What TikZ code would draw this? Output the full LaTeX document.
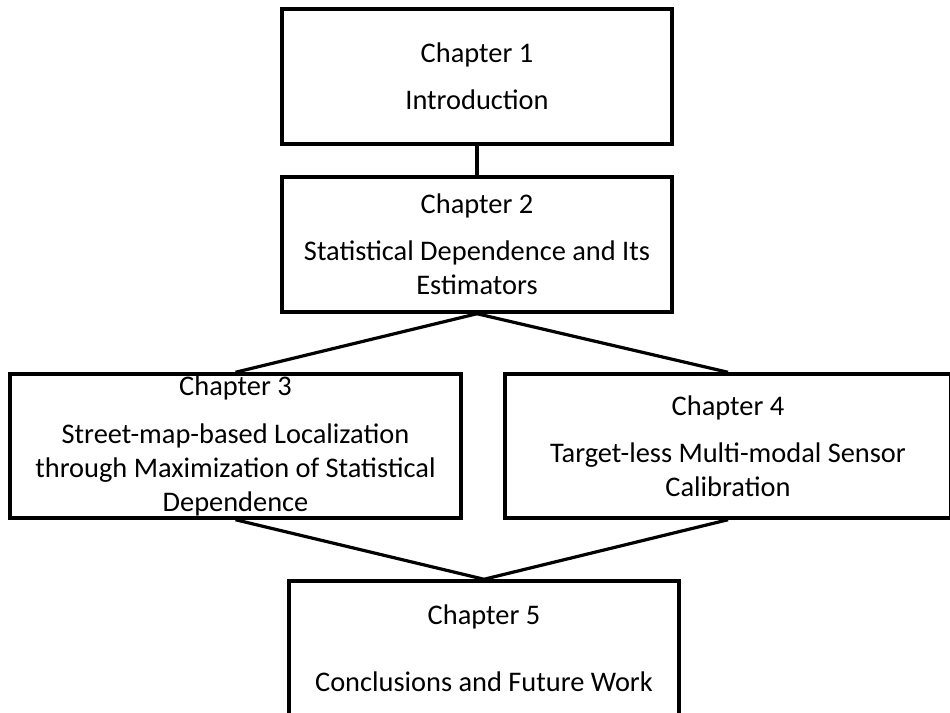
\documentclass[tikz,border=0pt]{standalone}
\usepackage{fontspec}
\setmainfont{Carlito}
\tikzset{
  chapbox/.style={draw, line width=2.6pt, align=center, font=\fontsize{21.3}{25.5}\selectfont, inner sep=0pt},
  link/.style={line width=2.4pt}
}
\begin{document}
\begin{tikzpicture}[x=0.75pt,y=-0.75pt]
\useasboundingbox (0,0) rectangle (950,713);
\node[chapbox, minimum width=292.5pt, minimum height=101.25pt] (intro) at (477,76.5) {Chapter 1\\[10pt] Introduction};
\node[chapbox, minimum width=292.5pt, minimum height=101.25pt] (depend) at (477,244.5) {Chapter 2\\[10pt] Statistical Dependence and Its\\ Estimators};
\node[chapbox, minimum width=338.25pt, minimum height=108pt] (streetmap) at (235.5,446) {Chapter 3\\[10pt] Street-map-based Localization\\ through Maximization of Statistical\\ Dependence};
\node[chapbox, minimum width=334.5pt, minimum height=108pt] (calib) at (728,446) {Chapter 4\\[10pt] Target-less Multi-modal Sensor\\ Calibration};
\node[chapbox, minimum width=292.5pt, minimum height=101.25pt] (concl) at (484,648.5) {Chapter 5\\[25pt] Conclusions and Future Work};
\draw[link] (intro) -- (depend);
\draw[link] (depend.south) -- (streetmap.north);
\draw[link] (depend.south) -- (calib.north);
\draw[link] (streetmap.south) -- (concl.north);
\draw[link] (calib.south) -- (concl.north);
\end{tikzpicture}
\end{document}
